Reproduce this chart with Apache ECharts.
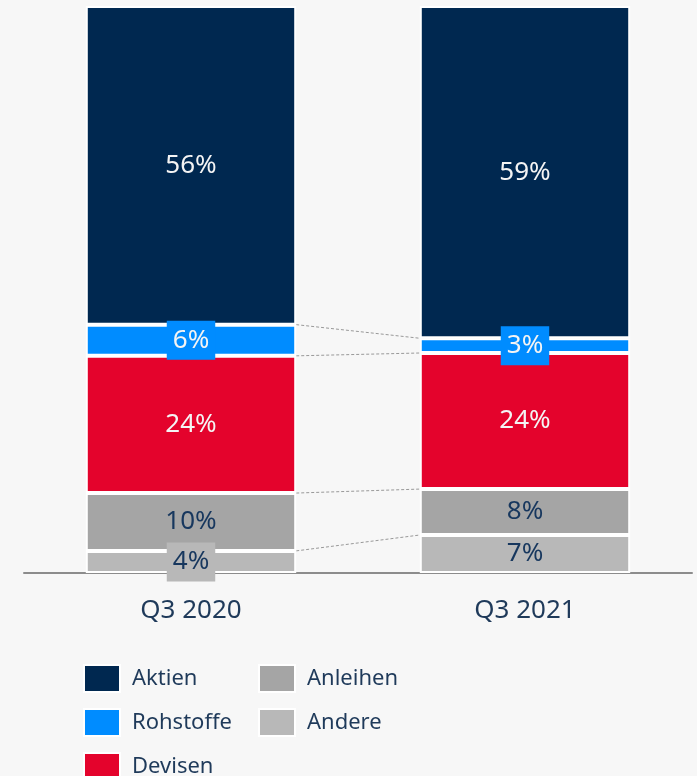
<!DOCTYPE html>
<html>
<head>
    <meta charset="UTF-8">
    <title></title>
    <script type="text/javascript" src="https://cdn.jsdelivr.net/npm/echarts@6/dist/echarts.min.js"></script>
    <style>
        html, body { margin: 0; padding: 0; background: #f7f7f7; }
        #main { width: 697px; height: 776px; }
    </style>
</head>
<body>
<div id="main"></div>
<script>
    // Kategorien und Werte (Anteile in %)
    var categories = ['Q3 2020', 'Q3 2021'];
    var names = ['Andere', 'Anleihen', 'Devisen', 'Rohstoffe', 'Aktien'];
    var colors = ['#b8b8b8', '#a5a5a5', '#e4032c', '#008cff', '#002850'];
    var andere = [3.9, 6.7];
    var anleihen = [10.2, 8.1];
    var devisen = [24.2, 24.0];
    var rohstoffe = [5.5, 2.6];
    var aktien = [56.2, 58.6];
    var values = [andere, anleihen, devisen, rohstoffe, aktien];

    var font = "'Noto Sans', 'Open Sans', sans-serif";
    var barPct = 0.63;

    var series = [];
    for (var s = 0; s < names.length; s++) {
        var dark = s < 2;
        var data = [];
        for (var i = 0; i < categories.length; i++) {
            var v = values[s][i];
            var item = { value: v };
            // kleine Segmente bekommen eine Box in Segmentfarbe
            if (v < 6) {
                item.label = {
                    backgroundColor: colors[s],
                    padding: [4, 6],
                    lineHeight: 31
                };
            }
            data.push(item);
        }
        series.push({
            name: names[s],
            type: 'bar',
            stack: 'total',
            barWidth: (barPct * 100) + '%',
            itemStyle: { color: colors[s], borderColor: '#ffffff', borderWidth: 2 },
            label: {
                show: true,
                position: 'inside',
                fontFamily: font,
                fontSize: 26,
                color: dark ? '#17375e' : '#f4f4f4',
                formatter: function (p) { return Math.round(p.value) + '%'; }
            },
            z: 3,
            data: data
        });
    }

    // gestrichelte Verbindungslinien zwischen den Segmentgrenzen
    var links = [];
    var cumL = 0, cumR = 0;
    for (var k = 0; k < names.length - 1; k++) {
        cumL += values[k][0];
        cumR += values[k][1];
        links.push([cumL, cumR]);
    }
    series.push({
        type: 'custom',
        silent: true,
        z: 1,
        renderItem: function (params, api) {
            var bw = api.size([1, 0])[0] * barPct;
            var p1 = api.coord([0, api.value(0)]);
            var p2 = api.coord([1, api.value(1)]);
            return {
                type: 'line',
                shape: { x1: p1[0] + bw / 2, y1: p1[1], x2: p2[0] - bw / 2, y2: p2[1] },
                style: { stroke: '#999999', lineWidth: 1, lineDash: [3, 2] }
            };
        },
        data: links
    });

    var legendText = { fontFamily: font, fontSize: 22, color: '#1f3a5a', padding: [0, 0, 0, 7] };
    var legendItem = { borderColor: '#ffffff', borderWidth: 2 };

    function makeLegend(left, items) {
        return {
            orient: 'vertical',
            left: left,
            top: 664,
            height: 160,
            padding: 0,
            itemWidth: 36,
            itemHeight: 27,
            itemGap: 15,
            icon: 'rect',
            itemStyle: legendItem,
            textStyle: legendText,
            data: items
        };
    }

    var myChart = echarts.init(document.getElementById('main'));
    myChart.setOption({
        backgroundColor: '#f7f7f7',
        animation: false,
        grid: { left: 24, right: 5, top: 6, bottom: 203 },
        legend: [
            makeLegend(83, ['Aktien', 'Rohstoffe', 'Devisen']),
            makeLegend(258, ['Anleihen', 'Andere'])
        ],
        xAxis: {
            type: 'category',
            data: categories,
            axisLine: { lineStyle: { color: '#8c8c8c', width: 2 } },
            axisTick: { show: false },
            axisLabel: { fontFamily: font, fontSize: 26, color: '#1f3a5a', margin: 25 }
        },
        yAxis: {
            type: 'value',
            min: 0,
            max: 100,
            show: false
        },
        series: series
    });
</script>
</body>
</html>
